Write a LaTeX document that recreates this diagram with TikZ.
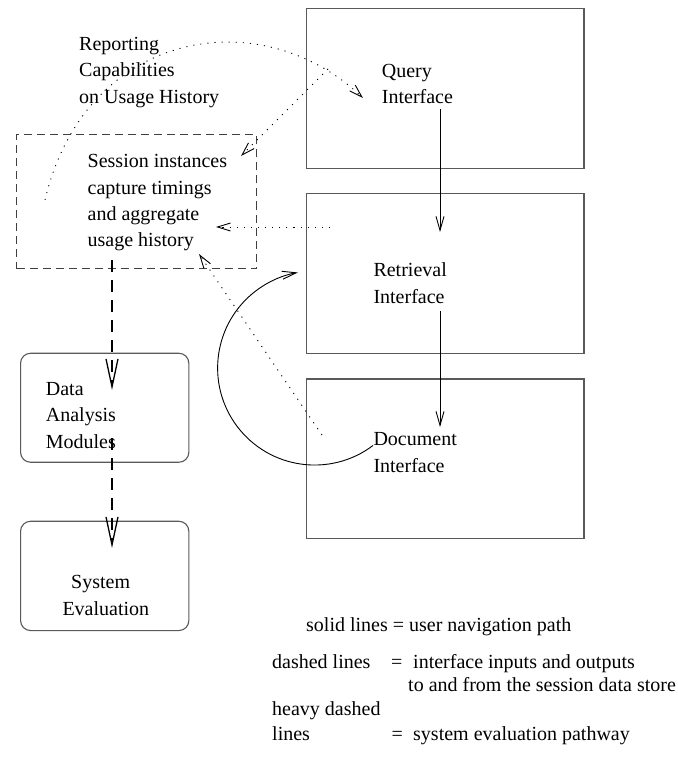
\documentclass[tikz,border=0pt]{standalone}
\usepackage{fontspec}
\setmainfont{Liberation Serif}
\usetikzlibrary{arrows.meta}
\begin{document}
\begin{tikzpicture}[x=1pt,y=-1pt,
  txt/.style={anchor=base west, inner sep=0pt, font=\fontsize{20}{26}\selectfont},
  box/.style={draw=black!65, line width=1.2pt, inner sep=0pt, anchor=north west},
  rbox/.style={draw=black!65, line width=1.1pt, rounded corners=10pt, inner sep=0pt, anchor=north west},
  dbox/.style={draw=black!75, line width=1pt, dash pattern=on 8pt off 5pt, inner sep=0pt, anchor=north west},
  nav/.style={line width=0.9pt, -{Straight Barb[length=14pt,width=8pt,line width=0.9pt]}},
  dotarr/.style={line width=0.9pt, dash pattern=on 1.1pt off 6pt, -{Straight Barb[length=13pt,width=8pt,line width=0.9pt]}},
  heavy/.style={line width=1.5pt, dash pattern=on 12pt off 8pt, -{Straight Barb[length=28pt,width=12pt,line width=1.3pt]}}
]
\useasboundingbox (0,0) rectangle (677,759);

% interface boxes
\node[box, minimum width=277.6pt, minimum height=159.4pt] (query) at (305.7,8.3) {};
\node[box, minimum width=277.6pt, minimum height=159.4pt] (retr) at (305.7,193.3) {};
\node[box, minimum width=277.6pt, minimum height=159.7pt] (docu) at (305.7,378.3) {};

% session store (dashed)
\node[dbox, minimum width=239.7pt, minimum height=134pt] (sess) at (16,134.3) {};

% rounded boxes
\node[rbox, minimum width=168.3pt, minimum height=109pt] (data) at (20,352.7) {};
\node[rbox, minimum width=168.3pt, minimum height=109.3pt] (syse) at (20,520.7) {};

% texts
\node[txt] (rep1) at (79,50.7) {Reporting};
\node[txt] (rep2) at (79,76.9) {Capabilities};
\node[txt] (rep3) at (79,103.1) {on Usage History};

\node[txt] (ses1) at (87.5,167.7) {Session instances};
\node[txt] (ses2) at (87.5,194.1) {capture timings};
\node[txt] (ses3) at (87.5,220.4) {and aggregate};
\node[txt] (ses4) at (87.5,246.7) {usage history};

\node[txt] (qry1) at (381.7,77.4) {Query};
\node[txt] (qry2) at (381.7,103.4) {Interface};
\node[txt] (ret1) at (373.3,276.8) {Retrieval};
\node[txt] (ret2) at (373.3,303.2) {Interface};
\node[txt] (doc1) at (373.3,445.6) {Document};
\node[txt] (doc2) at (373.3,472.2) {Interface};

\node[txt] (dat1) at (45.7,395) {Data};
\node[txt] (dat2) at (45.7,421.7) {Analysis};
\node[txt] (dat3) at (45.7,448.3) {Modules};
\node[txt] (sys1) at (71,588.3) {System};
\node[txt] (sys2) at (62.3,615) {Evaluation};

% legend
\node[txt] (leg1) at (306,631) {solid lines = user navigation path};
\node[txt] (leg2a) at (272,668.3) {dashed lines};
\node[txt] (leg2b) at (391,668.3) {=};
\node[txt] (leg2c) at (413,668.3) {interface inputs and outputs};
\node[txt] (leg3) at (408,691.7) {to and from the session data store};
\node[txt] (leg4) at (272,715) {heavy dashed};
\node[txt] (leg5a) at (272,740) {lines};
\node[txt] (leg5b) at (391.5,740) {=};
\node[txt] (leg5c) at (413,740) {system evaluation pathway};

% connector end points
\coordinate (qs) at (440,109);
\coordinate (qe) at (440,232);
\coordinate (rs) at (440,311);
\coordinate (re) at (440,427);
\coordinate (cs) at (373,445.5);
\coordinate (a1s) at (45,200);
\coordinate (a1e) at (363,98);
\coordinate (a2s) at (328,69);
\coordinate (a2e) at (241,156);
\coordinate (hs) at (330,227);
\coordinate (he) at (216,227);
\coordinate (ds) at (322,435);
\coordinate (de) at (199,254);
\coordinate (h1s) at (112,260);
\coordinate (h1e) at (112,390);
\coordinate (h2s) at (112,438);
\coordinate (h2e) at (112,548);

% user navigation path
\draw[nav] (qs) -- (qe);
\draw[nav] (rs) -- (re);
\draw[nav] (cs) arc[start angle=-53, end angle=-260, radius=97pt];

% interface inputs / outputs (dotted)
\draw[dotarr] (a1s) .. controls (85,30) and (260,0) .. (a1e);
\draw[dotarr] (a2s) -- (a2e);
\draw[dotarr] (hs) -- (he);
\draw[dotarr] (ds) -- (de);

% system evaluation pathway
\draw[heavy] (h1s) -- (h1e);
\draw[heavy] (h2s) -- (h2e);
\end{tikzpicture}
\end{document}
